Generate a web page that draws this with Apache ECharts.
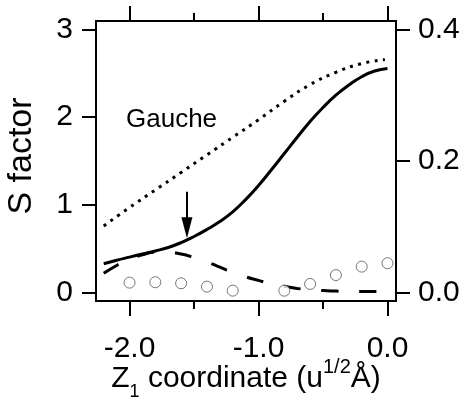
<!DOCTYPE html>
<html><head><meta charset="utf-8">
<script src="https://cdn.jsdelivr.net/npm/echarts@6/dist/echarts.min.js"></script>
<style>html,body{margin:0;padding:0;background:#fff}#c{width:462px;height:405px}</style>
</head><body><div id="c"></div>
<script>
// ---- data ----
const curveX   = [-2.2,-2.1,-2.0,-1.9,-1.8,-1.7,-1.6,-1.5,-1.4,-1.3,-1.2,-1.1,-1.0,-0.9,-0.8,-0.7,-0.6,-0.5,-0.4,-0.3,-0.2,-0.1,0.0];
const solidS   = [0.33,0.37,0.405,0.44,0.475,0.515,0.57,0.64,0.72,0.81,0.92,1.06,1.22,1.40,1.585,1.77,1.95,2.11,2.25,2.365,2.46,2.525,2.555];
const dashedS  = [0.22,0.31,0.38,0.43,0.46,0.46,0.44,0.40,0.35,0.29,0.23,0.18,0.14,0.10,0.072,0.048,0.033,0.025,0.018,0.013,0.012,0.012,0.012];
const dottedX  = [-2.2,-2.0,-1.8,-1.6,-1.4,-1.2,-1.0,-0.8,-0.6,-0.4,-0.2,-0.02];
const dottedS  = [0.76,0.97,1.17,1.37,1.57,1.77,1.97,2.18,2.37,2.51,2.61,2.655];
const circleX  = [-2.0,-1.8,-1.6,-1.4,-1.2,-0.8,-0.6,-0.4,-0.2,0.0];
const circleR  = [0.0152,0.0158,0.0142,0.0091,0.003,0.003,0.0132,0.0267,0.0395,0.0447];
const xMajorTicks = [-2,-1,0];
const xMinorTicks = [-1.5,-0.5];
const leftTicks   = [0,1,2,3];
const rightTicks  = [0,0.2,0.4];
const arrowX = -1.555, arrowTop = 1.15, arrowEnd = 0.74;
const annotation = 'Gauche';

const FONT = 'Liberation Sans, Arial, sans-serif';
const pairs = (xs, ys) => xs.map((x, i) => [x, ys[i]]);

function xAxisDef(pos, ticks, len, showLabels) {
  return {
    type: 'value', position: pos, min: -2.26, max: 0.066,
    axisLine: {show: true, onZero: false, lineStyle: {color: '#000', width: 2}},
    axisTick: {show: true, customValues: ticks, length: len, lineStyle: {color: '#000', width: 2}},
    axisLabel: {show: showLabels, customValues: ticks, margin: 33, color: '#000',
      fontFamily: FONT, fontSize: 30, formatter: v => v.toFixed(1)},
    splitLine: {show: false}
  };
}

const chart = echarts.init(document.getElementById('c'));
const bottomMajor = xAxisDef('bottom', xMajorTicks, 15, true);
bottomMajor.name = '{n|Z}{s|1}{n| coordinate (u}{p|1/2}{n|Å)}';
bottomMajor.nameLocation = 'middle';
bottomMajor.nameGap = 56;
bottomMajor.nameMoveOverlap = false;
bottomMajor.nameTextStyle = {
  color: '#000', fontFamily: FONT,
  rich: {
    n: {fontSize: 30, lineHeight: 44, verticalAlign: 'middle', fontFamily: FONT, color: '#000'},
    s: {fontSize: 18, lineHeight: 18, verticalAlign: 'bottom', fontFamily: FONT, color: '#000'},
    p: {fontSize: 20, lineHeight: 20, verticalAlign: 'top', fontFamily: FONT, color: '#000'}
  }
};

chart.setOption({
  animation: false,
  backgroundColor: '#fff',
  grid: {left: 96, right: 66, top: 21, bottom: 104, containLabel: false, outerBoundsMode: 'none'},
  xAxis: [
    bottomMajor,
    xAxisDef('bottom', xMinorTicks, 8, false),
    xAxisDef('top', xMajorTicks, 15, false),
    xAxisDef('top', xMinorTicks, 8, false)
  ],
  yAxis: [
    {type: 'value', position: 'left', min: -0.095, max: 3.095,
     name: 'S factor', nameLocation: 'middle', nameGap: 57, nameMoveOverlap: false,
     nameTextStyle: {color: '#000', fontFamily: FONT, fontSize: 34, padding: [0, 0, 0, 10]},
     axisLine: {show: true, onZero: false, lineStyle: {color: '#000', width: 2}},
     axisTick: {show: true, customValues: leftTicks, length: 14, lineStyle: {color: '#000', width: 2}},
     axisLabel: {customValues: leftTicks, margin: 23, color: '#000', fontFamily: FONT, fontSize: 30,
       formatter: v => String(Math.round(v))},
     splitLine: {show: false}},
    {type: 'value', position: 'right', min: -0.0127, max: 0.4127,
     axisLine: {show: true, onZero: false, lineStyle: {color: '#000', width: 2}},
     axisTick: {show: true, customValues: rightTicks, length: 14, lineStyle: {color: '#000', width: 2}},
     axisLabel: {customValues: rightTicks, margin: 22, color: '#000', fontFamily: FONT, fontSize: 30,
       formatter: v => v.toFixed(1)},
     splitLine: {show: false}}
  ],
  series: [
    {type: 'line', data: pairs(dottedX, dottedS), smooth: true, showSymbol: false, silent: true,
     lineStyle: {color: '#000', width: 3, type: [3, 5.4]}},
    {type: 'line', data: pairs(curveX, dashedS), smooth: true, showSymbol: false, silent: true,
     lineStyle: {color: '#000', width: 3, type: [17, 21]}},
    {type: 'line', data: pairs(curveX, solidS), smooth: true, showSymbol: false, silent: true,
     lineStyle: {color: '#000', width: 3},
     markLine: {silent: true, symbol: ['none', 'triangle'], symbolSize: [11, 21],
       label: {show: false}, lineStyle: {color: '#000', width: 2, type: 'solid'},
       emphasis: {disabled: true},
       data: [[{coord: [arrowX, arrowTop]}, {coord: [arrowX, arrowEnd]}]]}},
    {type: 'scatter', yAxisIndex: 1, data: pairs(circleX, circleR), symbol: 'circle', symbolSize: 11,
     silent: true, z: 5,
     itemStyle: {color: '#fff', borderColor: '#555', borderWidth: 1}}
  ],
  graphic: [
    {type: 'text', left: 126, top: 107, silent: true,
     style: {text: annotation, fontFamily: FONT, fontSize: 26, fill: '#000'}}
  ]
});
</script></body></html>
